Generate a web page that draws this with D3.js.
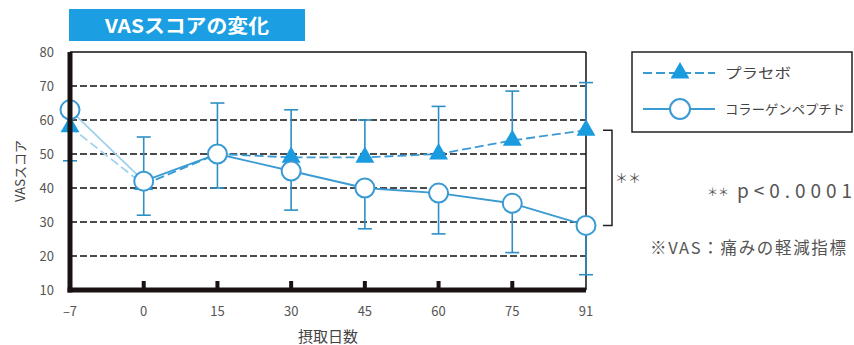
<!DOCTYPE html>
<html>
<head>
<meta charset="utf-8">
<script src="https://cdn.jsdelivr.net/npm/d3@7"></script>
<style>
  html, body { margin: 0; padding: 0; background: #fff; }
  svg { display: block; }
  text { font-family: "Noto Sans CJK JP", "Noto Sans", sans-serif; }
</style>
</head>
<body>
<svg id="chart" width="854" height="345"></svg>
<script>
// Intake days (categorical, equally spaced on the axis)
const days = ["-7", "0", "15", "30", "45", "60", "75", "91"];
const dayLabels = ["\u20137", "0", "15", "30", "45", "60", "75", "91"];

// Mean VAS scores
const placebo  = [58, 41, 50, 49, 49, 50, 54, 57];
const collagen = [63, 42, 50, 45, 40, 38.5, 35.5, 29];

// One-sided error bars: placebo drawn upward (downward at day -7), collagen downward
const placeboErr  = [10, 14, 15, 14, 11, 14, 14.5, 14];
const placeboDir  = [-1, 1, 1, 1, 1, 1, 1, 1];
const collagenErr = [0, 10, 10, 11.5, 12, 12, 14.5, 14.5];
const collagenDir = [1, -1, -1, -1, -1, -1, -1, -1];

const yTicks = [10, 20, 30, 40, 50, 60, 70, 80];
const gridValues = [20, 30, 40, 50, 60, 70];

const blue = "#1a9be0";
const lineBlue = "#3a9ad2";
const errBlue = "#2f8fc4";

const svg = d3.select("#chart");

const x = d3.scalePoint().domain(days).range([70, 586]).padding(0);
const y = d3.scaleLinear().domain([10, 80]).range([290, 52]);

// Title badge
svg.append("rect").attr("x", 69).attr("y", 9).attr("width", 236).attr("height", 32).attr("fill", "#1b9fe2");
svg.append("text").attr("x", 187).attr("y", 32.5).attr("text-anchor", "middle")
  .attr("fill", "#fff").attr("font-size", 19).attr("font-weight", "bold")
  .attr("textLength", 164).attr("lengthAdjust", "spacingAndGlyphs").text("VASスコアの変化");

// Dashed gridlines
svg.append("g").selectAll("line").data(gridValues).join("line")
  .attr("x1", x("-7")).attr("x2", x("91"))
  .attr("y1", d => y(d)).attr("y2", d => y(d))
  .attr("stroke", "#111").attr("stroke-width", 1.4).attr("stroke-dasharray", "7,3");

// Top line and right border
svg.append("line").attr("x1", x("-7")).attr("x2", x("91")).attr("y1", y(80)).attr("y2", y(80))
  .attr("stroke", "#111").attr("stroke-width", 1.5);
svg.append("line").attr("x1", x("91")).attr("x2", x("91")).attr("y1", y(80)).attr("y2", y(10))
  .attr("stroke", "#111").attr("stroke-width", 1.5);

// Error bars
function errorBars(vals, errs, dirs) {
  const g = svg.append("g").attr("stroke", errBlue).attr("stroke-width", 1.6).attr("fill", "none");
  days.forEach((d, i) => {
    if (!errs[i]) return;
    const y0 = y(vals[i]);
    const y1 = y(vals[i] + dirs[i] * errs[i]);
    g.append("line").attr("x1", x(d)).attr("x2", x(d)).attr("y1", y0).attr("y2", y1);
    g.append("line").attr("x1", x(d) - 7).attr("x2", x(d) + 7).attr("y1", y1).attr("y2", y1);
  });
}
errorBars(placebo, placeboErr, placeboDir);
errorBars(collagen, collagenErr, collagenDir);

// Series lines (the run-in segment -7 → 0 is drawn lighter)
const line = d3.line().x(d => x(d.day)).y(d => y(d.v));
function seriesLine(vals, dash) {
  const pts = days.map((d, i) => ({ day: d, v: vals[i] }));
  svg.append("path").attr("d", line(pts.slice(0, 2))).attr("fill", "none")
    .attr("stroke", "#9fd2ee").attr("stroke-width", 1.8).attr("stroke-dasharray", dash);
  svg.append("path").attr("d", line(pts.slice(1))).attr("fill", "none")
    .attr("stroke", lineBlue).attr("stroke-width", 1.8).attr("stroke-dasharray", dash);
}
seriesLine(placebo, "9,4");
seriesLine(collagen, null);

// Markers
const tri = d3.symbol().type(d3.symbolTriangle).size(155);
svg.append("g").selectAll("path").data(placebo).join("path")
  .attr("d", tri)
  .attr("transform", (d, i) => `translate(${x(days[i])},${y(d)})`)
  .attr("fill", blue);
svg.append("g").selectAll("circle").data(collagen).join("circle")
  .attr("cx", (d, i) => x(days[i])).attr("cy", d => y(d)).attr("r", 9.5)
  .attr("fill", "#fff").attr("stroke", lineBlue).attr("stroke-width", 2);

// Axes
svg.append("line").attr("x1", x("-7")).attr("x2", x("-7")).attr("y1", y(80)).attr("y2", y(10) + 2.5)
  .attr("stroke", "#1a1212").attr("stroke-width", 5);
svg.append("line").attr("x1", x("-7") - 2.5).attr("x2", x("91")).attr("y1", y(10)).attr("y2", y(10))
  .attr("stroke", "#1a1212").attr("stroke-width", 5);
svg.append("g").selectAll("rect").data(days.slice(1, -1)).join("rect")
  .attr("x", d => x(d) - 2).attr("y", y(10) - 9).attr("width", 4).attr("height", 9).attr("fill", "#1a1212");

// Tick labels
svg.append("g").selectAll("text").data(yTicks).join("text")
  .attr("x", 54).attr("y", d => y(d) + 5).attr("text-anchor", "end")
  .attr("font-size", 13).attr("fill", "#555").text(d => d);
svg.append("g").selectAll("text").data(days).join("text")
  .attr("x", d => x(d)).attr("y", 316).attr("text-anchor", "middle")
  .attr("font-size", 13).attr("fill", "#555").text((d, i) => dayLabels[i]);

// Axis titles
svg.append("text").attr("x", 328).attr("y", 342).attr("text-anchor", "middle")
  .attr("font-size", 15).attr("fill", "#444").text("摂取日数");
svg.append("text").attr("transform", "translate(25,171) rotate(-90)").attr("text-anchor", "middle")
  .attr("font-size", 13).attr("fill", "#444").text("VASスコア");

// Significance bracket at day 91
svg.append("path")
  .attr("d", `M603,${y(placebo[7])}H612V${y(collagen[7])}H603`)
  .attr("fill", "none").attr("stroke", "#222").attr("stroke-width", 1.5);
svg.append("text").attr("x", 615).attr("y", 183).attr("font-size", 13).attr("fill", "#555")
  .text("＊＊");

// Legend
const lg = svg.append("g");
lg.append("rect").attr("x", 632).attr("y", 52).attr("width", 220).attr("height", 80)
  .attr("fill", "#fff").attr("stroke", "#222").attr("stroke-width", 1.5);
lg.append("line").attr("x1", 643).attr("x2", 715).attr("y1", 73).attr("y2", 73)
  .attr("stroke", lineBlue).attr("stroke-width", 1.8).attr("stroke-dasharray", "9,4");
lg.append("path").attr("d", tri).attr("transform", "translate(680,73)").attr("fill", blue);
lg.append("text").attr("x", 725).attr("y", 78).attr("font-size", 14).attr("fill", "#444")
  .attr("textLength", 66).attr("lengthAdjust", "spacingAndGlyphs").text("プラセボ");
lg.append("line").attr("x1", 643).attr("x2", 715).attr("y1", 109).attr("y2", 109)
  .attr("stroke", lineBlue).attr("stroke-width", 1.8);
lg.append("circle").attr("cx", 680).attr("cy", 109).attr("r", 10)
  .attr("fill", "#fff").attr("stroke", lineBlue).attr("stroke-width", 2);
lg.append("text").attr("x", 725).attr("y", 114).attr("font-size", 13).attr("fill", "#444")
  .attr("textLength", 120).attr("lengthAdjust", "spacingAndGlyphs").text("コラーゲンペプチド");

// Notes
svg.append("text").attr("x", 707).attr("y", 196).attr("font-size", 11).attr("fill", "#555")
  .text("＊＊");
svg.append("text").attr("x", 737).attr("y", 198).attr("font-size", 19).attr("fill", "#555")
  .attr("font-family", "'Liberation Sans', Arial, sans-serif")
  .attr("textLength", 115).attr("lengthAdjust", "spacing").text("p<0.0001");
svg.append("text").attr("x", 650).attr("y", 254).attr("font-size", 16.5).attr("fill", "#555")
  .attr("textLength", 196).attr("lengthAdjust", "spacing").text("※VAS：痛みの軽減指標");
</script>
</body>
</html>
